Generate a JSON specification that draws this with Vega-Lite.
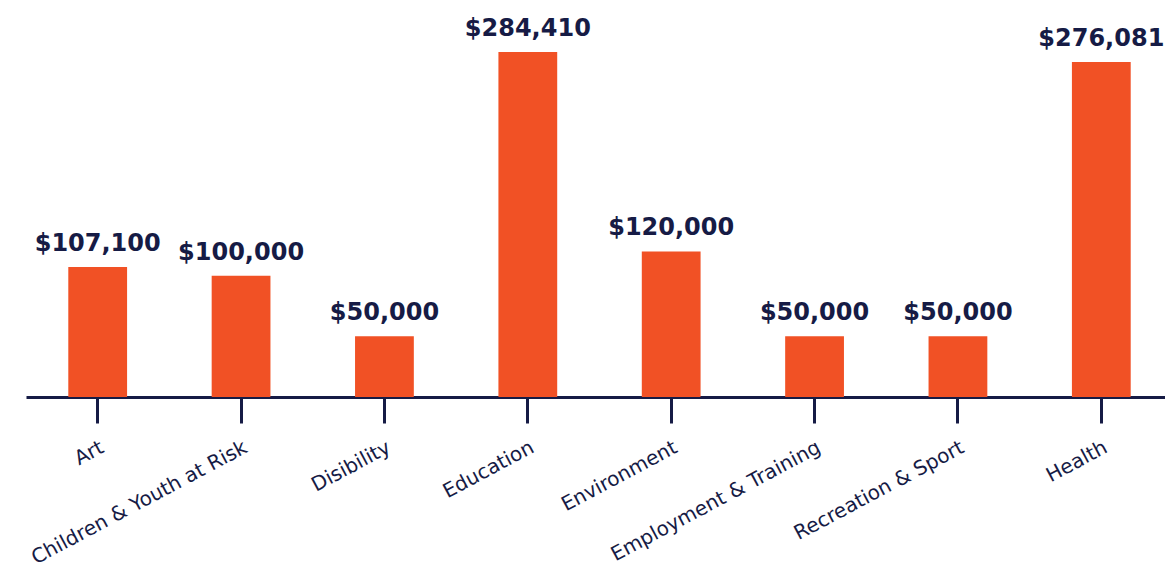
{
  "$schema": "https://vega.github.io/schema/vega-lite/v6.json",
  "autosize": {"type": "none"},
  "padding": {"left": 26, "top": 1, "right": 0, "bottom": 178},
  "width": 1147,
  "height": 396,
  "background": "white",
  "config": {"view": {"stroke": null}},
  "data": {"values": [
    {"category": "Art", "amount": 107100},
    {"category": "Children & Youth at Risk", "amount": 100000},
    {"category": "Disibility", "amount": 50000},
    {"category": "Education", "amount": 284410},
    {"category": "Environment", "amount": 120000},
    {"category": "Employment & Training", "amount": 50000},
    {"category": "Recreation & Sport", "amount": 50000},
    {"category": "Health", "amount": 276081}
  ]},
  "encoding": {
    "x": {"field": "category", "type": "nominal", "sort": null,
      "scale": {"paddingInner": 0.59, "paddingOuter": 0.295},
      "axis": {"title": null, "labelAngle": -28, "labelAlign": "right", "labelBaseline": "top",
        "labelFont": "DejaVu Sans", "labelFontSize": 20, "labelColor": "#161B45", "labelPadding": 14,
        "labelLimit": 500, "labelOverlap": false,
        "domainColor": "#161B45", "domainWidth": 3, "tickColor": "#161B45", "tickWidth": 3, "tickSize": 26}},
    "y": {"field": "amount", "type": "quantitative", "scale": {"domain": [0, 326450]}, "axis": null}
  },
  "layer": [
    {"mark": {"type": "bar", "color": "#F15125"}},
    {"mark": {"type": "text", "baseline": "bottom", "dy": -11, "font": "DejaVu Sans", "fontWeight": "bold", "fontSize": 24, "color": "#161B45"},
     "encoding": {"text": {"field": "amount", "type": "quantitative", "format": "$,.0f"}}}
  ]
}
